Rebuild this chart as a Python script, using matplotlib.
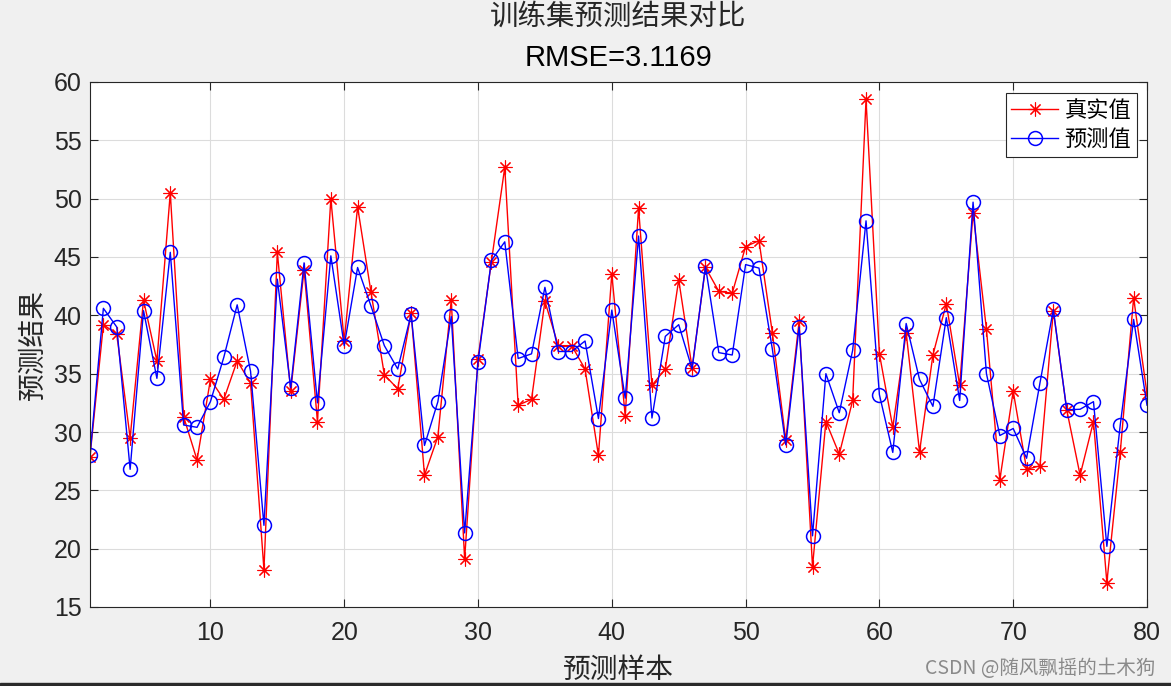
import matplotlib.pyplot as plt
import numpy as np

plt.rcParams['font.family'] = ['Liberation Sans', 'Noto Sans CJK SC', 'DejaVu Sans']

samples = np.arange(1, 81)

true_vals = [27.9, 39.2, 38.4, 29.5, 41.3, 36.1, 50.5, 31.3, 27.6, 34.5,
             32.8, 36.1, 34.2, 18.2, 45.4, 33.5, 43.9, 30.9, 50.0, 37.8,
             49.3, 42.0, 34.9, 33.7, 40.2, 26.3, 29.6, 41.3, 19.1, 36.3,
             44.6, 52.7, 32.3, 32.8, 41.2, 37.4, 37.4, 35.4, 28.0, 43.55,
             31.4, 49.2, 34.0, 35.4, 43.05, 35.5, 44.1, 42.05, 41.9, 45.9,
             46.4, 38.5, 29.3, 39.5, 18.45, 30.9, 28.1, 32.7, 58.5, 36.7,
             30.4, 38.5, 28.3, 36.6, 41.0, 34.0, 48.8, 38.8, 25.9, 33.5,
             26.8, 27.1, 40.4, 31.9, 26.3, 30.9, 17.1, 28.25, 41.5, 33.3]

pred_vals = [28.0, 40.6, 39.0, 26.8, 40.4, 34.6, 45.4, 30.6, 30.4, 32.6,
             36.4, 40.9, 35.2, 22.0, 43.1, 33.8, 44.5, 32.5, 45.1, 37.4,
             44.1, 40.8, 37.4, 35.4, 40.1, 28.85, 32.6, 39.9, 21.35, 36.0,
             44.7, 46.3, 36.3, 36.7, 42.4, 36.9, 36.9, 37.8, 31.15, 40.45,
             32.9, 46.8, 31.2, 38.2, 39.2, 35.4, 44.2, 36.8, 36.6, 44.35,
             44.05, 37.1, 28.9, 39.0, 21.1, 35.0, 31.65, 37.0, 48.1, 33.2,
             28.25, 39.3, 34.5, 32.2, 39.8, 32.7, 49.7, 35.0, 29.7, 30.3,
             27.75, 34.2, 40.5, 31.9, 31.95, 32.6, 20.2, 30.6, 39.65, 32.3]

rmse_text = "RMSE=3.1169"

fig = plt.figure(figsize=(11.71, 6.86), dpi=100, facecolor='#f0f0f0')
ax = fig.add_axes([90/1171, 1 - 607/686, (1147-90)/1171, (607-82)/686])

# matlab style asterisk: + and x together
ax.plot(samples, true_vals, color='red', marker=(8, 2, 0), markersize=10, markeredgewidth=0.8,
        linewidth=1, label='真实值')
ax.plot(samples, pred_vals, color='blue', marker='o', markersize=10, markerfacecolor='none',
        markeredgewidth=1.1, linewidth=1, label='预测值')

ax.set_xlim(1, 80)
ax.set_ylim(15, 60)
ax.set_xticks(np.arange(10, 81, 10))
ax.set_yticks(np.arange(15, 61, 5))
ax.tick_params(direction='in', top=True, right=True, labelsize=18, length=6,
               color='#262626', labelcolor='#262626')
ax.tick_params(axis='x', pad=10)
ax.tick_params(axis='y', pad=6)
ax.grid(True, color='#dcdcdc', linewidth=0.8)
ax.set_axisbelow(True)
for s in ax.spines.values():
    s.set_color('#262626')

ax.set_xlabel('预测样本', fontsize=20, family=['Noto Sans CJK SC'], labelpad=7, color='#262626')
ax.set_ylabel('预测结果', fontsize=20, family=['Noto Sans CJK SC'], labelpad=4, color='#262626')

cx = (90 + 1147) / 2 / 1171
fig.text(cx, 1 - 17/686, '训练集预测结果对比', ha='center', va='center', fontsize=20.5,
         family=['Noto Sans CJK SC'], color='#262626')
fig.text(cx, 1 - 58/686, rmse_text, ha='center', va='center', fontsize=21, color='black')

leg = ax.legend(loc='upper right', prop={'family': ['Noto Sans CJK SC'], 'size': 16},
                fancybox=False, edgecolor='#262626', framealpha=1,
                bbox_to_anchor=(1 - 10/1057, 1 - 11/525),
                borderaxespad=0, handlelength=2.1, borderpad=0.25, labelspacing=0.3,
                handletextpad=0.3)
leg.get_frame().set_linewidth(0.8)

fig.text(925/1171, 1 - 668/686, 'CSDN @随风飘摇的土木狗', ha='left', va='center', fontsize=14,
         family=['Noto Sans CJK SC'], color='#8a8a8a')

# dark strip along the bottom edge of the screenshot
fig.patches.append(plt.Rectangle((0, 0), 1, 3/686, transform=fig.transFigure,
                                 color='#2b2b2b', zorder=5))

fig.savefig('out.png', dpi=100, facecolor=fig.get_facecolor())
